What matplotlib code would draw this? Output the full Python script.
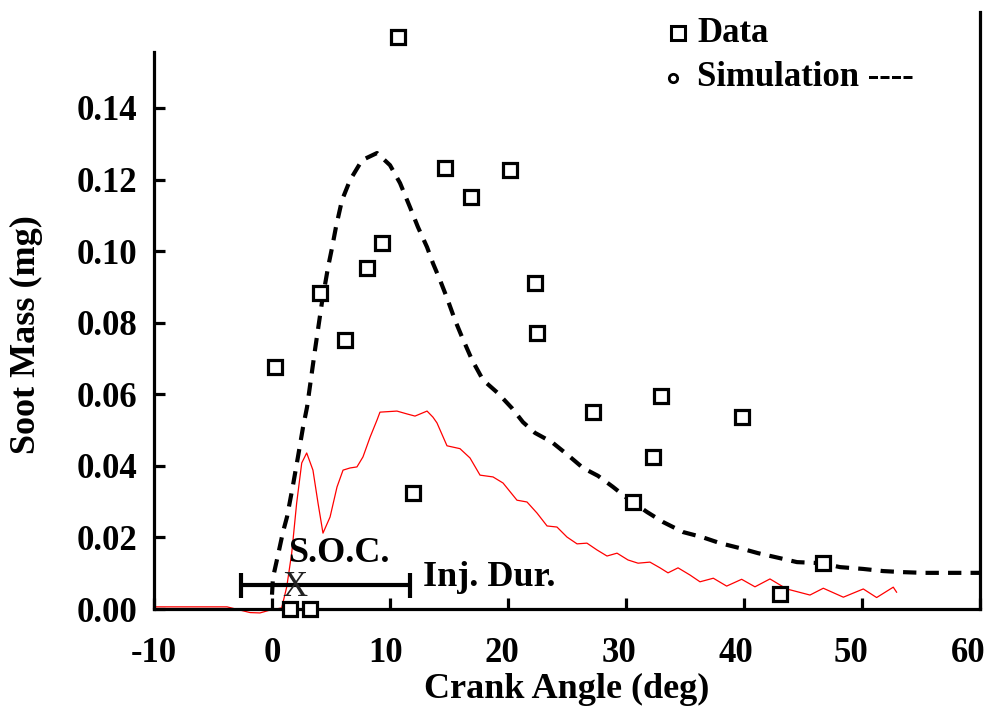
import matplotlib
matplotlib.use("Agg")
import matplotlib.pyplot as plt
from matplotlib.transforms import ScaledTranslation

plt.rcParams["font.family"] = ["Liberation Serif", "DejaVu Serif"]
plt.rcParams["font.weight"] = "bold"

# Measured soot mass (mg) versus crank angle (deg)
data_ca = [0.25, 4.07, 6.19, 8.03, 9.30, 10.65, 11.92, 14.66, 16.84, 20.17,
           22.29, 22.43, 27.23, 30.57, 32.31, 32.94, 39.80, 43.05, 46.72,
           1.53, 3.22]
data_soot = [0.0677, 0.0884, 0.0751, 0.0952, 0.1022, 0.1599, 0.0325, 0.1231,
             0.1152, 0.1226, 0.0910, 0.0772, 0.0551, 0.0300, 0.0425, 0.0596,
             0.0537, 0.0042, 0.0128, 0.0, 0.0]

# Simulated soot mass (dashed curve)
sim_ca = [0.0, 0.08, 0.51, 0.93, 1.27, 1.78, 2.20, 2.63, 2.97, 3.64, 4.24,
          4.75, 5.08, 5.42, 5.93, 6.61, 7.63, 8.90, 10.0, 10.85, 11.69, 12.37,
          13.14, 13.64, 14.24, 14.83, 15.51, 16.10, 16.95, 17.88, 19.15,
          20.34, 21.27, 22.29, 23.73, 25.08, 26.36, 27.63, 28.90, 30.08,
          31.78, 33.14, 34.83, 36.44, 37.97, 39.66, 41.19, 43.05, 44.49,
          46.61, 48.14, 50.08, 51.78, 53.47, 55.17, 56.86, 58.56, 60.0]
sim_soot = [0.0040, 0.0087, 0.0151, 0.0215, 0.0257, 0.0346, 0.0425, 0.0508,
            0.0564, 0.0723, 0.0858, 0.0955, 0.1008, 0.1067, 0.1142, 0.1198,
            0.1254, 0.1274, 0.1240, 0.1190, 0.1123, 0.1067, 0.1011, 0.0966,
            0.0919, 0.0869, 0.0807, 0.0760, 0.0696, 0.0640, 0.0603, 0.0561,
            0.0522, 0.0492, 0.0466, 0.0430, 0.0394, 0.0372, 0.0341, 0.0310,
            0.0271, 0.0243, 0.0215, 0.0201, 0.0184, 0.0170, 0.0156, 0.0142,
            0.0131, 0.0128, 0.0117, 0.0112, 0.0106, 0.0103, 0.0101, 0.0101,
            0.0101, 0.0101]

# Second model trace (thin red line)
red_ca = [-10.0, -3.81, -2.71, -1.86, -1.02, -0.17, 0.82, 1.25, 1.67, 2.09,
          2.52, 2.94, 3.47, 3.90, 4.32, 4.92, 5.51, 6.02, 6.61, 7.20, 7.71,
          8.31, 8.90, 9.15, 10.59, 11.44, 12.12, 13.14, 13.64, 13.98, 14.83,
          15.93, 16.78, 17.63, 18.73, 19.58, 20.76, 21.61, 22.46, 23.31,
          24.15, 25.00, 25.85, 26.69, 27.54, 28.39, 29.24, 30.17, 31.02,
          32.03, 32.88, 33.56, 34.41, 35.42, 36.27, 37.40, 38.53, 39.80,
          40.93, 42.20, 43.62, 45.59, 46.72, 48.42, 50.11, 51.24, 52.65, 52.93]
red_soot = [0.0006, 0.0006, -0.0003, -0.0010, -0.0011, -0.0003, 0.0003,
            0.0062, 0.0156, 0.0296, 0.0408, 0.0436, 0.0388, 0.0296, 0.0212,
            0.0257, 0.0341, 0.0388, 0.0394, 0.0397, 0.0425, 0.0480, 0.0528,
            0.0550, 0.0553, 0.0545, 0.0539, 0.0553, 0.0536, 0.0520, 0.0456,
            0.0448, 0.0422, 0.0374, 0.0369, 0.0352, 0.0304, 0.0299, 0.0268,
            0.0232, 0.0229, 0.0201, 0.0182, 0.0184, 0.0165, 0.0148, 0.0156,
            0.0137, 0.0128, 0.0131, 0.0115, 0.0101, 0.0115, 0.0095, 0.0076,
            0.0086, 0.0064, 0.0083, 0.0062, 0.0084, 0.0056, 0.0039, 0.0058,
            0.0033, 0.0056, 0.0032, 0.0061, 0.0047]

# Injection duration bar and start of combustion
inj_start, inj_end, inj_level = -2.65, 11.69, 0.0067
soc_ca, soc_level = 1.95, 0.0061

x_ticks = [-10, 0, 10, 20, 30, 40, 50, 60]
y_ticks = [0.00, 0.02, 0.04, 0.06, 0.08, 0.10, 0.12, 0.14]

fig = plt.figure(figsize=(9.9, 7.11), dpi=100)
ax = fig.add_axes([154 / 990, 1 - 609 / 711, 826 / 990, 597 / 711])

ax.plot(red_ca, red_soot, color="#ff0000", lw=0.9, clip_on=False, zorder=2)
ax.plot(sim_ca, sim_soot, color="black", lw=3.0,
        linestyle=(0, (3.2, 2.2)), dash_capstyle="butt", zorder=3,
        clip_on=False)
ax.plot(data_ca, data_soot, linestyle="none", marker="s", ms=10.5,
        mfc="white", mec="black", mew=2.3, clip_on=False, zorder=4)

ax.errorbar([inj_start], [inj_level], xerr=[[0], [inj_end - inj_start]],
            fmt="none", ecolor="black", elinewidth=3, capsize=9, capthick=3,
            zorder=3)
ax.text(soc_ca, soc_level, "X", fontsize=25, fontweight="normal",
        ha="center", va="center", color="#222222", zorder=5)
ax.text(1.36, 0.0131, "S.O.C.", fontsize=26, ha="left", va="baseline")
ax.text(12.8, 0.0064, "Inj. Dur.", fontsize=26, ha="left", va="baseline")

ax.set_xlim(-10, 60)
ax.set_ylim(0, 0.1668)
ax.set_xticks(x_ticks)
ax.set_xticklabels([str(t) for t in x_ticks])
ax.set_yticks(y_ticks)
ax.set_yticklabels([f"{t:.2f}" for t in y_ticks])

ax.spines["top"].set_visible(False)
ax.spines["left"].set_bounds(0, 0.1556)
for side in ("left", "right", "bottom"):
    ax.spines[side].set_linewidth(2.3)

ax.tick_params(axis="both", direction="in", length=8, width=2.3,
               labelsize=25)
ax.tick_params(axis="y", pad=12)
ax.tick_params(axis="x", pad=20)
ax.tick_params(axis="y", right=False)

# x tick labels sit slightly left of their ticks, more so toward the right
label_shift_px = [0, 0, -4, -6, -7, -8, -11, -12]
for lab, dx in zip(ax.get_xticklabels(), label_shift_px):
    lab.set_transform(lab.get_transform()
                      + ScaledTranslation(dx / 100, 0, fig.dpi_scale_trans))

ax.set_xlabel("Crank Angle (deg)", fontsize=26, fontweight="bold", labelpad=2)
ax.set_ylabel("Soot Mass (mg)", fontsize=26, fontweight="bold")
ax.yaxis.set_label_coords(-0.134, 0.46)

# Legend drawn as markers and text in figure coordinates
ax.plot([678 / 990], [1 - 33 / 711], transform=fig.transFigure, marker="s",
        ms=9.5, mfc="white", mec="black", mew=2.2, clip_on=False)
ax.plot([673 / 990], [1 - 78 / 711], transform=fig.transFigure, marker="o",
        ms=6, mfc="white", mec="black", mew=2.0, clip_on=False)
fig.text(697 / 990, 1 - 33 / 711, "Data", fontsize=25, fontweight="bold",
         ha="left", va="center")
fig.text(697 / 990, 1 - 78 / 711, "Simulation ----", fontsize=25,
         fontweight="bold", ha="left", va="center")

fig.savefig("out.png", dpi=100)
